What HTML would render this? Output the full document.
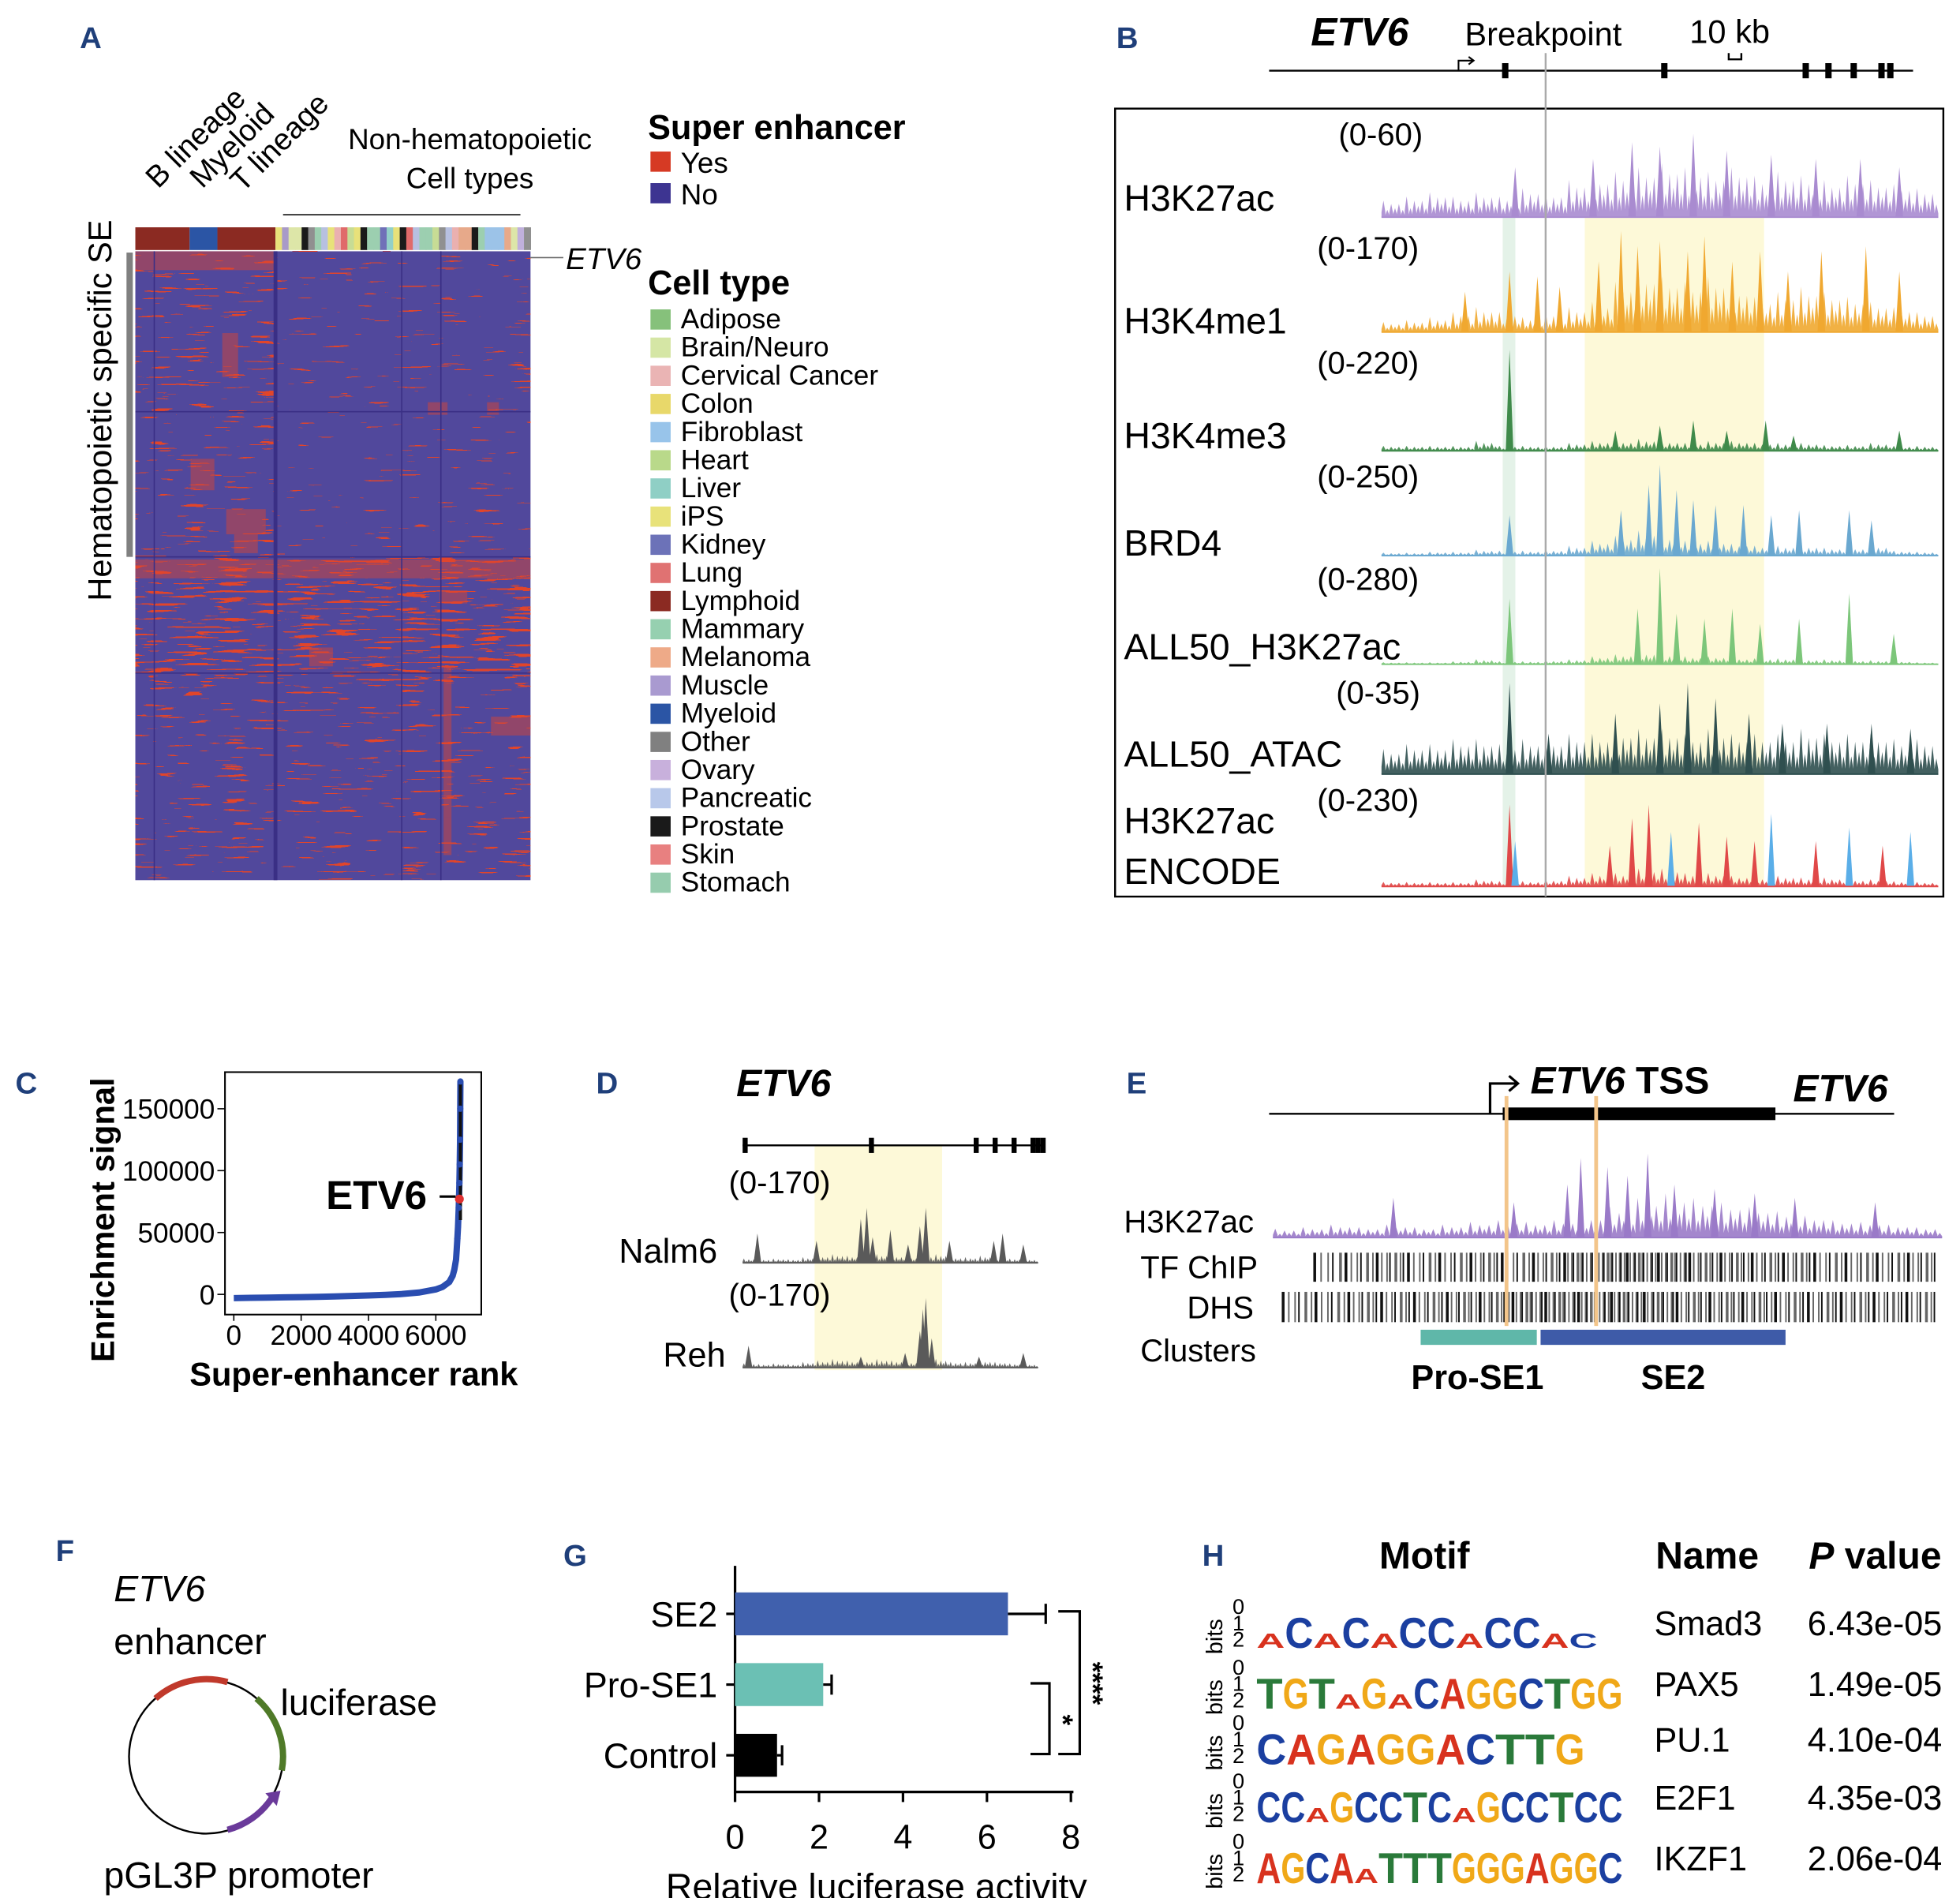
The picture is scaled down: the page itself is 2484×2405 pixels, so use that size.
<!DOCTYPE html>
<html><head><meta charset="utf-8"><style>
html,body{margin:0;padding:0;background:#fff}
svg{display:block;font-family:"Liberation Sans",Arial,sans-serif}
</style></head><body>
<svg id="fig" xmlns="http://www.w3.org/2000/svg" width="2484" height="2405" viewBox="0 0 1552 1503">
<defs>
<filter id="speck" x="0" y="0" width="1" height="1">
<feTurbulence type="fractalNoise" baseFrequency="0.035 0.5" numOctaves="2" seed="4" result="n"/>
<feColorMatrix in="n" type="matrix" values="0 0 0 0 0  0 0 0 0 0  0 0 0 0 0  1.8 0 0 0 -0.74" result="a"/>
<feComponentTransfer in="a" result="m"><feFuncA type="discrete" tableValues="0 1"/></feComponentTransfer>
<feFlood flood-color="#e2452c"/>
<feComposite in2="m" operator="in"/>
</filter>
<filter id="speck2" x="0" y="0" width="1" height="1">
<feTurbulence type="fractalNoise" baseFrequency="0.035 0.5" numOctaves="2" seed="9" result="n"/>
<feColorMatrix in="n" type="matrix" values="0 0 0 0 0  0 0 0 0 0  0 0 0 0 0  1.8 0 0 0 -0.62" result="a"/>
<feComponentTransfer in="a" result="m"><feFuncA type="discrete" tableValues="0 1"/></feComponentTransfer>
<feFlood flood-color="#e2452c"/>
<feComposite in2="m" operator="in"/>
</filter>
<filter id="speck3" x="0" y="0" width="1" height="1">
<feTurbulence type="fractalNoise" baseFrequency="0.035 0.5" numOctaves="2" seed="2" result="n"/>
<feColorMatrix in="n" type="matrix" values="0 0 0 0 0  0 0 0 0 0  0 0 0 0 0  1.8 0 0 0 -0.82" result="a"/>
<feComponentTransfer in="a" result="m"><feFuncA type="discrete" tableValues="0 1"/></feComponentTransfer>
<feFlood flood-color="#e2452c"/>
<feComposite in2="m" operator="in"/>
</filter>
</defs>

<g>
<text x="63" y="38" font-size="24" font-weight="bold" fill="#1f3f7a">A</text>
<text transform="translate(88,325) rotate(-90)" text-anchor="middle" font-size="26">Hematopoietic specific SE</text>
<rect x="100" y="200" width="5" height="241" fill="#808080"/>
<text transform="translate(125,150) rotate(-45)" font-size="24">B lineage</text>
<text transform="translate(160,150) rotate(-45)" font-size="24">Myeloid</text>
<text transform="translate(192,153) rotate(-45)" font-size="24">T lineage</text>
<text x="372" y="118" text-anchor="middle" font-size="23">Non-hematopoietic</text>
<text x="372" y="149" text-anchor="middle" font-size="23">Cell types</text>
<line x1="224" y1="170" x2="412" y2="170" stroke="#333" stroke-width="1.2"/>
<g id="colorbar"></g>
<g>
<rect x="107" y="199" width="313" height="498" fill="#51489c"/>
<rect x="107" y="199" width="110" height="242" fill="#fff" filter="url(#speck)"/>
<rect x="217" y="199" width="203" height="242" fill="#fff" filter="url(#speck3)"/>
<rect x="107" y="441" width="313" height="100" fill="#fff" filter="url(#speck2)"/>
<rect x="107" y="541" width="313" height="156" fill="#fff" filter="url(#speck)"/>
<g id="hmblocks"></g>
<line x1="218" y1="199" x2="218" y2="697" stroke="#3a2f85" stroke-width="3"/>
<line x1="318" y1="199" x2="318" y2="697" stroke="#3a2f85" stroke-width="1"/>
<line x1="349" y1="199" x2="349" y2="697" stroke="#3a2f85" stroke-width="1"/>
<line x1="122" y1="199" x2="122" y2="697" stroke="#3a2f85" stroke-width="1"/>
<line x1="107" y1="441" x2="420" y2="441" stroke="#3a2f85" stroke-width="1"/>
<line x1="107" y1="326" x2="420" y2="326" stroke="#3a2f85" stroke-width="1"/>
<line x1="107" y1="533" x2="420" y2="533" stroke="#3a2f85" stroke-width="1"/>
</g>
<line x1="420" y1="204" x2="446" y2="204" stroke="#666" stroke-width="1"/>
<text x="448" y="213" font-size="24" font-style="italic">ETV6</text>
<g>
<text x="513" y="110" font-size="27" font-weight="bold">Super enhancer</text>
<rect x="515" y="120" width="16" height="16" fill="#d63a24"/><text x="539" y="137" font-size="23">Yes</text>
<rect x="515" y="145" width="16" height="16" fill="#3d3491"/><text x="539" y="162" font-size="23">No</text>
</g>
<text x="513" y="233" font-size="27" font-weight="bold">Cell type</text>
<g id="celllegend"></g>
</g>

<g>
<text x="884" y="38" font-size="24" font-weight="bold" fill="#1f3f7a">B</text>
<text x="1038" y="36" font-size="31" font-weight="bold" font-style="italic">ETV6</text>
<text x="1160" y="36" font-size="26">Breakpoint</text>
<text x="1338" y="34" font-size="26">10 kb</text>
<path d="M1369 42 v5 h10 v-5" fill="none" stroke="#000" stroke-width="1.5"/>
<line x1="1005" y1="56" x2="1515" y2="56" stroke="#000" stroke-width="1.5"/>
<path d="M1155 56 v-8 h12 M1163 45 l4 3 l-4 3" fill="none" stroke="#000" stroke-width="1.3"/>
<g id="genebExons"></g>
<rect x="883" y="86" width="656" height="624" fill="none" stroke="#000" stroke-width="1.5"/>
<rect x="1255" y="172" width="142" height="530" fill="#fdf9d8"/>
<rect x="1190" y="172" width="10" height="530" fill="#e4f2e8"/>
<g id="tracks"></g>
<line x1="1224" y1="42" x2="1224" y2="710" stroke="#aaa" stroke-width="1.5"/>
</g>

<g>
<text x="12" y="866" font-size="24" font-weight="bold" fill="#1f3f7a">C</text>
<rect x="178" y="849" width="203" height="192" fill="none" stroke="#000" stroke-width="1.3"/>
<g id="cAxes"></g>
<text transform="translate(90,966) rotate(-90)" text-anchor="middle" font-size="26" font-weight="bold">Enrichment signal</text>
<text x="280" y="1097" text-anchor="middle" font-size="26" font-weight="bold">Super-enhancer rank</text>
<g id="cPoints"></g>
</g>

<g>
<text x="472" y="866" font-size="24" font-weight="bold" fill="#1f3f7a">D</text>
<text x="583" y="868" font-size="30" font-weight="bold" font-style="italic">ETV6</text>
<rect x="645" y="907" width="101" height="178" fill="#fdf9d8"/>
<line x1="588" y1="907" x2="826" y2="907" stroke="#000" stroke-width="1.5"/>
<g id="dExons"></g>
<text x="577" y="945" font-size="25">(0-170)</text>
<text x="490" y="1000" font-size="27">Nalm6</text>
<text x="577" y="1034" font-size="25">(0-170)</text>
<text x="525" y="1082" font-size="27">Reh</text>
<g id="dTracks"></g>
</g>

<g>
<text x="892" y="866" font-size="24" font-weight="bold" fill="#1f3f7a">E</text>
<line x1="1005" y1="882" x2="1500" y2="882" stroke="#000" stroke-width="1.5"/>
<rect x="1190" y="877" width="216" height="10" fill="#000"/>
<path d="M1180 882 v-24 h22 M1195 852 l7 6 l-7 6" fill="none" stroke="#000" stroke-width="2"/>
<text x="1212" y="866" font-size="30" font-weight="bold" font-style="italic">ETV6<tspan font-style="normal"> TSS</tspan></text>
<text x="1420" y="872" font-size="30" font-weight="bold" font-style="italic">ETV6</text>
<text x="890" y="976" font-size="25">H3K27ac</text>
<text x="903" y="1012" font-size="25">TF ChIP</text>
<text x="940" y="1044" font-size="25">DHS</text>
<text x="903" y="1078" font-size="25">Clusters</text>
<g id="eTracks"></g>
<rect x="1125" y="1053" width="92" height="12" fill="#5fb7a9"/>
<rect x="1220" y="1053" width="194" height="12" fill="#3e5ba8"/>
<text x="1170" y="1100" text-anchor="middle" font-size="27" font-weight="bold">Pro-SE1</text>
<text x="1325" y="1100" text-anchor="middle" font-size="27" font-weight="bold">SE2</text>
<line x1="1193" y1="868" x2="1193" y2="1050" stroke="#f3c58a" stroke-width="3"/>
<line x1="1264" y1="868" x2="1264" y2="1050" stroke="#f3c58a" stroke-width="3"/>
</g>

<g>
<text x="44" y="1236" font-size="24" font-weight="bold" fill="#1f3f7a">F</text>
<text x="90" y="1268" font-size="29" font-style="italic">ETV6</text>
<text x="90" y="1310" font-size="29">enhancer</text>
<text x="222" y="1358" font-size="29">luciferase</text>
<text x="82" y="1495" font-size="29">pGL3P promoter</text>
<circle cx="163" cy="1391" r="61" fill="none" stroke="#000" stroke-width="1.5"/>
<path d="M123 1345 A61 61 0 0 1 180 1332" fill="none" stroke="#c0392b" stroke-width="5"/>
<path d="M203 1345 A61 61 0 0 1 223 1402" fill="none" stroke="#4f7a28" stroke-width="5"/>
<path d="M215 1424 A61 61 0 0 1 180 1449" fill="none" stroke="#6a3a9a" stroke-width="5"/>
<path d="M210 1420 l12 -2 l-3 12 z" fill="#6a3a9a"/>
</g>

<g>
<text x="446" y="1240" font-size="24" font-weight="bold" fill="#1f3f7a">G</text>
<g id="gChart"></g>
<text x="694" y="1504" text-anchor="middle" font-size="29">Relative luciferase activity</text>
</g>

<g>
<text x="952" y="1240" font-size="24" font-weight="bold" fill="#1f3f7a">H</text>
<text x="1128" y="1242" text-anchor="middle" font-size="30" font-weight="bold">Motif</text>
<text x="1352" y="1242" text-anchor="middle" font-size="30" font-weight="bold">Name</text>
<text x="1485" y="1242" text-anchor="middle" font-size="30" font-weight="bold"><tspan font-style="italic">P</tspan> value</text>
<g id="hTable"></g>
</g>
</svg>
<script>
const NS="http://www.w3.org/2000/svg";
function el(tag,attrs,parent){const e=document.createElementNS(NS,tag);for(const k in attrs)e.setAttribute(k,attrs[k]);parent.appendChild(e);return e;}

// ---------- Panel A data ----------
const topGroups=[["B lineage",107,150,"#8b2a22"],["Myeloid",150,172,"#2b55a5"],["T lineage",172,218,"#8b2a22"]];
const nonHemaColors=["#e8e17a","#a89ac8","#dde6a8","#dde6a8","#1a1a1a","#909090","#9ccfb0","#b7c0e0","#e8e17a","#eab0b0","#e06a6a","#c7dc95","#e8e17a","#1a1a1a","#9ccfb0","#9ccfb0","#7070b8","#92d0c8","#e8e17a","#1a1a1a","#e06a6a","#b7c0e0","#9ccfb0","#9ccfb0","#c7dc95","#909090","#b7c0e0","#eab0b0","#e7a98a","#e7a98a","#1a1a1a","#9ccfb0","#9cc3e8","#9cc3e8","#9cc3e8","#e7a98a","#dde6a8","#c0b0dc","#909090"];
const cellTypes=["Adipose","Brain/Neuro","Cervical Cancer","Colon","Fibroblast","Heart","Liver","iPS","Kidney","Lung","Lymphoid","Mammary","Melanoma","Muscle","Myeloid","Other","Ovary","Pancreatic","Prostate","Skin","Stomach"];
const cellColors=["#86c17b","#d5e6a5","#eab4b4","#e8d86a","#98c4ea","#b9d98a","#8fcfc5","#e8e27a","#6c72b8","#e07272","#8b2a22","#96d0b0","#eeaa88","#a99ad0","#2b55a5","#808080","#c8b0dc","#b8c8ea","#1a1a1a","#e88080","#96ccae"];
const hmBlocks=[[0.0,0.35,0.0,0.03],[0.22,0.26,0.13,0.2],[0.14,0.20,0.33,0.38],[0.23,0.33,0.41,0.45],[0.25,0.31,0.45,0.48],[0.0,1.0,0.49,0.52],[0.77,0.84,0.54,0.56],[0.78,0.80,0.66,0.9],[0.78,0.80,0.9,0.96],[0.44,0.5,0.63,0.66],[0.9,1.0,0.74,0.77],[0.74,0.79,0.24,0.26],[0.89,0.92,0.24,0.26]];
(function(){
  const cb=document.getElementById('colorbar');
  topGroups.forEach(g=>{const r=el('rect',{x:g[1],y:180,width:g[2]-g[1],height:18,fill:g[3]},cb);
  
  });
  const w=(420-218)/nonHemaColors.length;
  nonHemaColors.forEach((c,i)=>{const r=el('rect',{x:218+i*w,y:180,width:w+0.4,height:18,fill:c},cb);
  
  });
  const hb=document.getElementById('hmblocks');
  hmBlocks.forEach(b=>{const r=el('rect',{x:107+b[0]*313,y:199+b[2]*498,width:(b[1]-b[0])*313,height:(b[3]-b[2])*498,fill:"#e0452e",opacity:0.45},hb);
  
  });
  const lg=document.getElementById('celllegend');
  cellTypes.forEach((t,i)=>{const y=245+i*22.3;
    const r=el('rect',{x:515,y:y,width:16,height:16,fill:cellColors[i]},lg);
    
    
    const tx=el('text',{x:539,y:y+15,"font-size":22},lg);tx.textContent=t;
    
    });
})();

// ---------- Panel B data ----------
const geneExonsB=[1192,1318,1430,1448,1468,1490,1497];
const trackNames=["H3K27ac","H3K4me1","H3K4me3","BRD4","ALL50_H3K27ac","ALL50_ATAC","H3K27ac ENCODE"];
const trackRanges=["(0-60)","(0-170)","(0-220)","(0-250)","(0-280)","(0-35)","(0-230)"];
const trackColors=["#a98bd0","#f0a830","#3f8a4a","#6aa8d0","#7cc67a","#2f4f4f","#e04848"];
const env0=[0.2,0.25,0.3,0.25,0.3,0.25,0.35,0.3,0.45,0.5,0.55,0.6,0.65,0.6,0.55,0.6,0.5,0.55,0.5,0.45,0.5,0.45,0.4,0.35];
const env1=[0.1,0.12,0.15,0.2,0.25,0.2,0.15,0.2,0.25,0.3,0.5,0.6,0.55,0.5,0.55,0.45,0.35,0.4,0.45,0.4,0.35,0.3,0.25,0.2];
const env2=[0.05,0.05,0.05,0.05,0.1,0.05,0.05,0.05,0.08,0.1,0.1,0.12,0.1,0.08,0.1,0.1,0.08,0.08,0.08,0.06,0.06,0.08,0.05,0.05];
const env3=[0.03,0.03,0.04,0.04,0.06,0.05,0.05,0.06,0.1,0.15,0.2,0.25,0.2,0.15,0.15,0.12,0.1,0.1,0.1,0.08,0.08,0.1,0.05,0.04];
const env4=[0.02,0.02,0.02,0.03,0.05,0.03,0.03,0.04,0.05,0.08,0.1,0.12,0.1,0.08,0.08,0.06,0.06,0.06,0.05,0.05,0.04,0.04,0.03,0.02];
const env5=[0.25,0.3,0.3,0.35,0.35,0.3,0.35,0.35,0.4,0.4,0.45,0.45,0.45,0.4,0.45,0.4,0.4,0.4,0.45,0.4,0.4,0.4,0.35,0.35];
const env6=[0.05,0.05,0.05,0.05,0.08,0.06,0.06,0.08,0.12,0.15,0.15,0.2,0.2,0.15,0.15,0.12,0.1,0.12,0.1,0.1,0.08,0.08,0.06,0.05];
const envs=[env0,env1,env2,env3,env4,env5,env6];
const peaks0=[[0.24,0.6],[0.38,0.7],[0.45,0.9],[0.5,0.85],[0.56,1.0],[0.62,0.8],[0.7,0.75],[0.78,0.7],[0.86,0.7],[0.93,0.6]];
const peaks1=[[0.15,0.4],[0.23,0.6],[0.28,0.55],[0.32,0.45],[0.39,0.7],[0.43,1.0],[0.46,0.85],[0.5,0.9],[0.55,0.8],[0.58,0.95],[0.63,0.7],[0.68,0.8],[0.73,0.6],[0.79,0.8],[0.87,0.85],[0.93,0.6]];
const peaks2=[[0.23,1.0],[0.42,0.2],[0.5,0.25],[0.56,0.3],[0.62,0.2],[0.69,0.3],[0.74,0.15],[0.93,0.2]];
const peaks3=[[0.23,0.4],[0.43,0.45],[0.48,0.7],[0.5,0.9],[0.53,0.65],[0.56,0.55],[0.6,0.5],[0.65,0.5],[0.7,0.4],[0.75,0.45],[0.84,0.45],[0.88,0.35]];
const peaks4=[[0.23,0.65],[0.46,0.55],[0.5,0.95],[0.53,0.5],[0.58,0.45],[0.63,0.55],[0.68,0.4],[0.75,0.45],[0.84,0.7],[0.92,0.3]];
const peaks5=[[0.23,0.9],[0.3,0.4],[0.42,0.6],[0.5,0.7],[0.55,0.9],[0.6,0.75],[0.66,0.6],[0.72,0.5],[0.8,0.5],[0.88,0.5],[0.95,0.45]];
const peaks6=[[0.23,0.9],[0.24,0.5],[0.41,0.45],[0.45,0.75],[0.48,0.9],[0.52,0.6],[0.57,0.7],[0.62,0.55],[0.67,0.5],[0.7,0.8],[0.78,0.5],[0.84,0.65],[0.9,0.45],[0.95,0.6]];
const peaksAll=[peaks0,peaks1,peaks2,peaks3,peaks4,peaks5,peaks6];
const encodeColors=["#e04848","#5aaee8","#e04848","#e04848","#e04848","#5aaee8","#e04848","#e04848","#e04848","#5aaee8","#e04848","#5aaee8","#e04848","#5aaee8"];
const trackLayout=[[107,157,172,66],[197,254,263,80],[288,345,357,80],[378,430,440,80],[459,512,526,80],[549,597,613,80],[634,650,702,72]];

function drawTrack(parent,x0,x1,base,h,env,peaks,color,pcolors,name){
  const g=el('g',{},parent);
  
  
  const n=env.length,sw=(x1-x0)/n;
  let d="M"+x0+" "+base;
  for(let i=0;i<n;i++){
    for(let k=0;k<6;k++){const xx=x0+i*sw+k*sw/6;const hh=env[i]*h*(k%2?0.55:1)*(k%3?0.8:1);
      d+=" L"+xx+" "+(base-hh*0.3)+" L"+(xx+sw/12)+" "+(base-hh)+" L"+(xx+sw/6)+" "+(base-hh*0.3);}
  }
  d+=" L"+x1+" "+base+" Z";
  el('path',{d:d,fill:color,opacity:0.9},g);
  peaks.forEach((p,i)=>{const xx=x0+p[0]*(x1-x0);const c=pcolors?pcolors[i%pcolors.length]:color;
    const pk=el('path',{d:"M"+(xx-3)+" "+base+" L"+xx+" "+(base-p[1]*h)+" L"+(xx+3)+" "+base+" Z",fill:c},g);
    
    });
  el('line',{x1:x0,y1:base,x2:x1,y2:base,stroke:color,"stroke-width":1.2},g);
}
(function(){
  const gx=document.getElementById('genebExons');
  geneExonsB.forEach(x=>el('rect',{x:x-2.5,y:50,width:5,height:12,fill:"#000"},gx));
  const tr=document.getElementById('tracks');
  trackNames.forEach((nm,i)=>{const L=trackLayout[i];
    const r=el('text',{x:(i==0?1060:i==5?1058:1043),y:L[0]+8,"font-size":25},tr);r.textContent=trackRanges[i];
    if(i<6){const t=el('text',{x:890,y:L[1]+10,"font-size":29},tr);t.textContent=nm;}
    else{const t=el('text',{x:890,y:L[1]+10,"font-size":29},tr);t.textContent="H3K27ac";const t2=el('text',{x:890,y:L[1]+50,"font-size":29},tr);t2.textContent="ENCODE";}
    drawTrack(tr,1094,1535,L[2],L[3],envs[i],peaksAll[i],trackColors[i],i==6?encodeColors:null,'track-'+nm.toLowerCase().replace(/[ _]/g,'-'));
  });
})();

// ---------- Panel C data ----------
const cYTicks=[0,50000,100000,150000];
const cXTicks=[0,2000,4000,6000];
const cRanks=[0,500,1000,1500,2000,2500,3000,3500,4000,4500,5000,5500,6000,6200,6400,6500,6550,6600,6620,6640,6660,6680,6700,6710,6720,6725,6730];
const cSignal=[-3000,-2800,-2600,-2400,-2200,-2000,-1700,-1300,-900,-400,300,1500,4000,6000,10000,15000,20000,28000,36000,45000,55000,70000,90000,105000,125000,150000,172000];
const etv6Rank=6700, etv6Signal=77000;
(function(){
  const sx=v=>185+v*(345-185)/6000, sy=v=>1025-v*(1025-878)/150000;
  const ax=document.getElementById('cAxes');
  cYTicks.forEach(v=>{el('line',{x1:172,y1:sy(v),x2:178,y2:sy(v),stroke:"#000"},ax);
    const t=el('text',{x:170,y:sy(v)+8,"text-anchor":"end","font-size":22},ax);t.textContent=v;
    });
  cXTicks.forEach(v=>{el('line',{x1:sx(v),y1:1041,x2:sx(v),y2:1046,stroke:"#000"},ax);
    const t=el('text',{x:sx(v),y:1065,"text-anchor":"middle","font-size":22},ax);t.textContent=v;
    });
  const pg=document.getElementById('cPoints');
  let d="";cRanks.forEach((r,i)=>{d+=(i?"L":"M")+sx(r)+" "+sy(cSignal[i])+" ";});
  el('path',{d:d,fill:"none",stroke:"#2a4db0","stroke-width":5},pg);
  el('line',{x1:sx(6730),y1:sy(60000),x2:sx(6730),y2:sy(172000),stroke:"#111","stroke-width":2.5},pg);
  cRanks.slice(-8).forEach((r,i)=>{const c=el('circle',{cx:sx(r),cy:sy(cSignal[cSignal.length-8+i]),r:2.5,fill:"#2a4db0"},pg);
    });
  const e=el('circle',{cx:sx(etv6Rank),cy:sy(etv6Signal),r:3.5,fill:"#e03030"},pg);
  
  el('line',{x1:348,y1:sy(etv6Signal)-2,x2:sx(etv6Rank)-3,y2:sy(etv6Signal)-2,stroke:"#000","stroke-width":2},pg);
  const t=el('text',{x:258,y:sy(etv6Signal)+8,"font-size":32,"font-weight":"bold"},pg);t.textContent="ETV6";
  
})();

// ---------- Panel D data ----------
const dExons=[590,690,773,788,803,818,822,826];
const nalm6Peaks=[[0.05,0.4],[0.25,0.3],[0.4,0.6],[0.42,0.75],[0.44,0.35],[0.5,0.45],[0.56,0.25],[0.6,0.5],[0.62,0.75],[0.7,0.3],[0.85,0.3],[0.88,0.4],[0.95,0.25]];
const rehPeaks=[[0.02,0.3],[0.4,0.15],[0.55,0.2],[0.6,0.5],[0.61,0.8],[0.62,0.95],[0.64,0.4],[0.8,0.15],[0.95,0.2]];
const dEnv=[0.06,0.05,0.06,0.05,0.08,0.1,0.12,0.1,0.1,0.12,0.1,0.08,0.1,0.12,0.08,0.08,0.1,0.08,0.06,0.05];
(function(){
  const g=document.getElementById('dExons');
  dExons.forEach(x=>el('rect',{x:x-2,y:901,width:4,height:12,fill:"#000"},g));
  const tg=document.getElementById('dTracks');
  drawTrack(tg,588,822,1000,58,dEnv,nalm6Peaks,"#5a5a5a",null,'track-nalm6');
  drawTrack(tg,588,822,1083,58,dEnv,rehPeaks,"#5a5a5a",null,'track-reh');
})();

// ---------- Panel E data ----------
const eEnv=[0.1,0.12,0.15,0.12,0.15,0.12,0.15,0.18,0.2,0.18,0.2,0.25,0.35,0.45,0.5,0.45,0.4,0.35,0.3,0.25,0.2,0.18,0.15,0.12];
const ePeaks=[[0.18,0.45],[0.36,0.4],[0.44,0.6],[0.46,0.9],[0.5,0.8],[0.53,0.7],[0.56,0.95],[0.6,0.6],[0.66,0.55],[0.72,0.5],[0.78,0.45],[0.9,0.4]];
const tfDensity=[0.4,0.5,0.6,0.5,0.5,0.6,0.5,0.6,0.8,0.9,0.9,0.8,0.7,0.7,0.6,0.6,0.5,0.5,0.5,0.6];
const dhsDensity=[0.5,0.5,0.6,0.6,0.6,0.7,0.7,0.8,0.8,0.9,0.9,0.8,0.7,0.7,0.7,0.6,0.6,0.6,0.6,0.6];
(function(){
  const g=document.getElementById('eTracks');
  drawTrack(g,1008,1538,980,70,eEnv,ePeaks,"#9a7ac8",null,'track-h3k27ac-e');
  function barcode(x0,x1,y0,h,dens,name){
    const bg=el('g',{},g);
    
    
    const n=dens.length,sw=(x1-x0)/n,per=12;
    dens.forEach((v,i)=>{const cnt=Math.round(v*per);
      for(let k=0;k<cnt;k++){const xx=x0+i*sw+(k*per/cnt+(k%3)*0.3)*sw/per;
        el('rect',{x:xx,y:y0,width:(k%4==0?2.2:1.2),height:h,fill:(k%3==0?"#111":"#666")},bg);}});
  }
  barcode(1040,1535,992,23,tfDensity,'tf-chip-barcode');
  barcode(1015,1535,1023,24,dhsDensity,'dhs-barcode');
})();

// ---------- Panel G data ----------
const gCats=["SE2","Pro-SE1","Control"];
const gValues=[6.5,2.1,1.0];
const gErrors=[0.9,0.2,0.12];
const gColors=["#4060ad","#6bc0b4","#000"];
const gTicks=[0,2,4,6,8];
(function(){
  const g=document.getElementById('gChart');
  const sx=v=>582+v*(848-582)/8;
  const rowY=[1278,1334,1390],bh=34;
  el('line',{x1:582,y1:1240,x2:582,y2:1420,stroke:"#000","stroke-width":2},g);
  el('line',{x1:582,y1:1419,x2:850,y2:1419,stroke:"#000","stroke-width":2},g);
  gTicks.forEach(v=>{el('line',{x1:sx(v),y1:1419,x2:sx(v),y2:1427,stroke:"#000","stroke-width":2},g);
    const t=el('text',{x:sx(v),y:1464,"text-anchor":"middle","font-size":27},g);t.textContent=v;
    });
  gCats.forEach((c,i)=>{const y=rowY[i];
    el('line',{x1:575,y1:y,x2:582,y2:y,stroke:"#000","stroke-width":2},g);
    const t=el('text',{x:568,y:y+10,"text-anchor":"end","font-size":28},g);t.textContent=c;
    
    const b=el('rect',{x:582,y:y-bh/2,width:sx(gValues[i])-582,height:bh,fill:gColors[i]},g);
    
    const ex=sx(gValues[i]+gErrors[i]);
    el('line',{x1:sx(gValues[i]),y1:y,x2:ex,y2:y,stroke:"#000","stroke-width":2},g);
    el('line',{x1:ex,y1:y-8,x2:ex,y2:y+8,stroke:"#000","stroke-width":2},g);});
  el('path',{d:"M838 1276 H855 V1389 H838",fill:"none",stroke:"#000","stroke-width":2},g);
  el('path',{d:"M816 1333 H831 V1389 H816",fill:"none",stroke:"#000","stroke-width":2},g);
  const s1=el('text',{transform:"translate(858,1333) rotate(90)","text-anchor":"middle","font-size":22,"font-weight":"bold"},g);s1.textContent="****";
  const s2=el('text',{transform:"translate(834,1362) rotate(90)","text-anchor":"middle","font-size":22,"font-weight":"bold"},g);s2.textContent="*";
})();

// ---------- Panel H data ----------
const motifNames=["Smad3","PAX5","PU.1","E2F1","IKZF1"];
const motifPvals=["6.43e-05","1.49e-05","4.10e-04","4.35e-03","2.06e-04"];
const motifSeqs=["ACACACCACCAC","TGTAGACAGGCTGG","CAGAGGACTTG","CCAGCCTCAGCCTCC","AGCAATTTGGGAGGC"];
const motifHeights=["lhlhlhhlhhll","hhhlhlhhhhhhhh","hhhhhhhhhhh","hhlhhhhhlhhhhhh","hhhhlhhhhhhhhhh"];
(function(){
  const g=document.getElementById('hTable');
  const col={A:"#d8321e",C:"#1b3fa0",G:"#f0a818",T:"#2a7a3a"};
  const rowY=[1290,1338,1382,1428,1476];
  motifNames.forEach((n,i)=>{const y=rowY[i];
    const b=el('text',{transform:"translate(968,"+(y+6)+") rotate(-90)","text-anchor":"middle","font-size":18},g);b.textContent="bits";
    ["0","1","2"].forEach((d,k)=>{const t=el('text',{x:976,y:y-12+k*13,"font-size":17},g);t.textContent=d;});
    const seq=motifSeqs[i],hs=motifHeights[i];
    const x0=995,w=i==2?260/11:(i==0?270/12:290/seq.length);
    for(let k=0;k<seq.length;k++){
      const hi=hs[k]=="h";
      const t=el('text',{x:x0+k*w,y:y+15,"font-size":hi?34:16,"font-weight":"bold",fill:col[seq[k]],textLength:w,lengthAdjust:"spacingAndGlyphs"},g);
      t.textContent=seq[k];
      
      }
    const nt=el('text',{x:1310,y:y+5,"font-size":27},g);nt.textContent=n;
    
    const pt=el('text',{x:1538,y:y+5,"text-anchor":"end","font-size":27},g);pt.textContent=motifPvals[i];
    
  });
})();
</script>
</body></html>
